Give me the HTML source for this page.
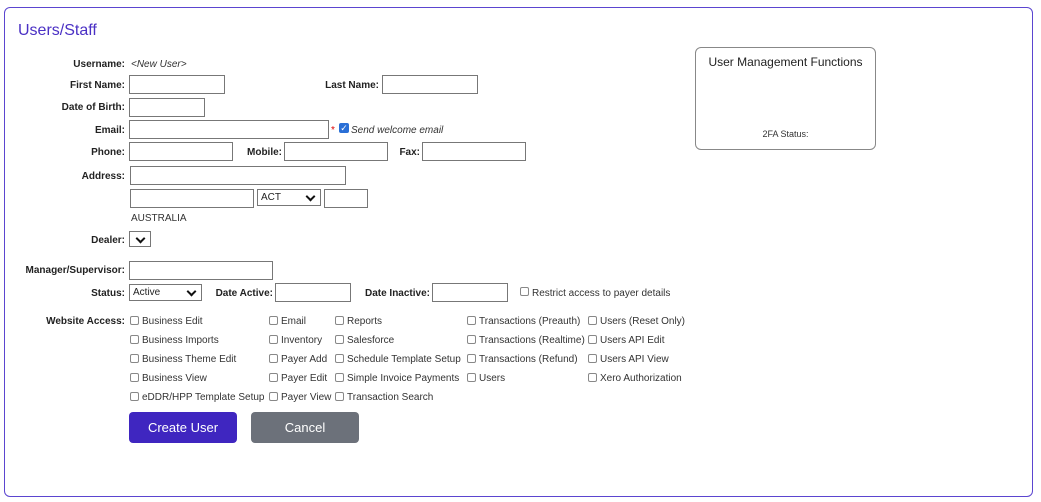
<!DOCTYPE html>
<html><head><meta charset="utf-8"><style>
body{margin:0;width:1041px;height:502px;background:#fff;position:relative;font-family:"Liberation Sans",sans-serif;color:#222;overflow:hidden}
.a{position:absolute}
.frame{left:4px;top:7px;width:1027px;height:488px;border:1px solid #5b45d0;border-radius:6px}
.title{left:18px;top:22px;font-size:16px;color:#4a30c4}
.l{position:absolute;font-size:10px;font-weight:bold;text-align:right;line-height:12px;color:#222;margin-top:1px}
.t{position:absolute;font-size:10px;line-height:12px;color:#333;margin-top:1px}
.in{position:absolute;border:1px solid #777;background:#fff;box-sizing:border-box}
.sel{position:absolute;border:1px solid #777;background:#fff;box-sizing:border-box;font-size:10px;padding-left:3px;line-height:15px}
.sel:after{content:"";position:absolute;right:6px;top:3px;width:5px;height:5px;border-right:2px solid #111;border-bottom:2px solid #111;transform:rotate(45deg)}
.cb{position:absolute;width:9px;height:9px;border:1px solid #888;border-radius:2px;background:#fff;box-sizing:border-box;margin-top:1px}
.btn{position:absolute;color:#fff;font-size:13px;text-align:center;line-height:31px;border-radius:4px}
</style></head><body>
<div class="a frame"></div>
<div class="a title">Users/Staff</div>

<div class="l" style="right:916px;top:58px">Username:</div>
<div class="t" style="left:131px;top:58px;font-style:italic">&lt;New User&gt;</div>

<div class="l" style="right:916px;top:79px">First Name:</div>
<div class="in" style="left:129px;top:75px;width:96px;height:19px"></div>
<div class="l" style="right:662px;top:79px">Last Name:</div>
<div class="in" style="left:382px;top:75px;width:96px;height:19px"></div>

<div class="l" style="right:916px;top:101px">Date of Birth:</div>
<div class="in" style="left:129px;top:98px;width:76px;height:19px"></div>

<div class="l" style="right:916px;top:124px">Email:</div>
<div class="in" style="left:129px;top:120px;width:200px;height:19px"></div>
<div class="t" style="left:331px;top:124px;color:#d00">*</div>
<div class="a" style="left:339px;top:123px;width:10px;height:10px;background:#2a6fd6;border-radius:2px;color:#fff;font-size:9px;line-height:10px;text-align:center">✓</div>
<div class="t" style="left:351px;top:124px;font-style:italic">Send welcome email</div>

<div class="l" style="right:916px;top:146px">Phone:</div>
<div class="in" style="left:129px;top:142px;width:104px;height:19px"></div>
<div class="l" style="right:759px;top:146px">Mobile:</div>
<div class="in" style="left:284px;top:142px;width:104px;height:19px"></div>
<div class="l" style="right:621px;top:146px">Fax:</div>
<div class="in" style="left:422px;top:142px;width:104px;height:19px"></div>

<div class="l" style="right:916px;top:170px">Address:</div>
<div class="in" style="left:130px;top:166px;width:216px;height:19px"></div>
<div class="in" style="left:130px;top:189px;width:124px;height:19px"></div>
<div class="sel" style="left:257px;top:189px;width:64px;height:17px">ACT</div>
<div class="in" style="left:324px;top:189px;width:44px;height:19px"></div>
<div class="t" style="left:131px;top:212px">AUSTRALIA</div>

<div class="l" style="right:916px;top:234px">Dealer:</div>
<div class="sel" style="left:129px;top:231px;width:22px;height:16px"></div>

<div class="l" style="right:916px;top:264px">Manager/Supervisor:</div>
<div class="in" style="left:129px;top:261px;width:144px;height:19px"></div>

<div class="l" style="right:916px;top:287px">Status:</div>
<div class="sel" style="left:129px;top:284px;width:73px;height:17px">Active</div>
<div class="l" style="right:768px;top:287px">Date Active:</div>
<div class="in" style="left:275px;top:283px;width:76px;height:19px"></div>
<div class="l" style="right:611px;top:287px">Date Inactive:</div>
<div class="in" style="left:432px;top:283px;width:76px;height:19px"></div>
<div class="cb" style="left:520px;top:286px"></div>
<div class="t" style="left:532px;top:287px">Restrict access to payer details</div>

<div class="l" style="right:916px;top:315px">Website Access:</div>
<div class="cb" style="left:130px;top:315px"></div><div class="t" style="left:142px;top:315px">Business Edit</div>
<div class="cb" style="left:130px;top:334px"></div><div class="t" style="left:142px;top:334px">Business Imports</div>
<div class="cb" style="left:130px;top:353px"></div><div class="t" style="left:142px;top:353px">Business Theme Edit</div>
<div class="cb" style="left:130px;top:372px"></div><div class="t" style="left:142px;top:372px">Business View</div>
<div class="cb" style="left:130px;top:391px"></div><div class="t" style="left:142px;top:391px">eDDR/HPP Template Setup</div>

<div class="cb" style="left:269px;top:315px"></div><div class="t" style="left:281px;top:315px">Email</div>
<div class="cb" style="left:269px;top:334px"></div><div class="t" style="left:281px;top:334px">Inventory</div>
<div class="cb" style="left:269px;top:353px"></div><div class="t" style="left:281px;top:353px">Payer Add</div>
<div class="cb" style="left:269px;top:372px"></div><div class="t" style="left:281px;top:372px">Payer Edit</div>
<div class="cb" style="left:269px;top:391px"></div><div class="t" style="left:281px;top:391px">Payer View</div>

<div class="cb" style="left:335px;top:315px"></div><div class="t" style="left:347px;top:315px">Reports</div>
<div class="cb" style="left:335px;top:334px"></div><div class="t" style="left:347px;top:334px">Salesforce</div>
<div class="cb" style="left:335px;top:353px"></div><div class="t" style="left:347px;top:353px">Schedule Template Setup</div>
<div class="cb" style="left:335px;top:372px"></div><div class="t" style="left:347px;top:372px">Simple Invoice Payments</div>
<div class="cb" style="left:335px;top:391px"></div><div class="t" style="left:347px;top:391px">Transaction Search</div>

<div class="cb" style="left:467px;top:315px"></div><div class="t" style="left:479px;top:315px">Transactions (Preauth)</div>
<div class="cb" style="left:467px;top:334px"></div><div class="t" style="left:479px;top:334px">Transactions (Realtime)</div>
<div class="cb" style="left:467px;top:353px"></div><div class="t" style="left:479px;top:353px">Transactions (Refund)</div>
<div class="cb" style="left:467px;top:372px"></div><div class="t" style="left:479px;top:372px">Users</div>

<div class="cb" style="left:588px;top:315px"></div><div class="t" style="left:600px;top:315px">Users (Reset Only)</div>
<div class="cb" style="left:588px;top:334px"></div><div class="t" style="left:600px;top:334px">Users API Edit</div>
<div class="cb" style="left:588px;top:353px"></div><div class="t" style="left:600px;top:353px">Users API View</div>
<div class="cb" style="left:588px;top:372px"></div><div class="t" style="left:600px;top:372px">Xero Authorization</div>

<div class="btn" style="left:129px;top:412px;width:108px;height:31px;background:#3f26c0">Create User</div>
<div class="btn" style="left:251px;top:412px;width:108px;height:31px;background:#6c717a">Cancel</div>

<div class="a" style="left:695px;top:47px;width:179px;height:101px;border:1px solid #888;border-radius:6px"></div>
<div class="a" style="left:695px;top:55px;width:181px;text-align:center;font-size:12px;color:#222">User Management Functions</div>
<div class="a" style="left:695px;top:129px;width:181px;text-align:center;font-size:9px;color:#333">2FA Status:</div>
</body></html>
